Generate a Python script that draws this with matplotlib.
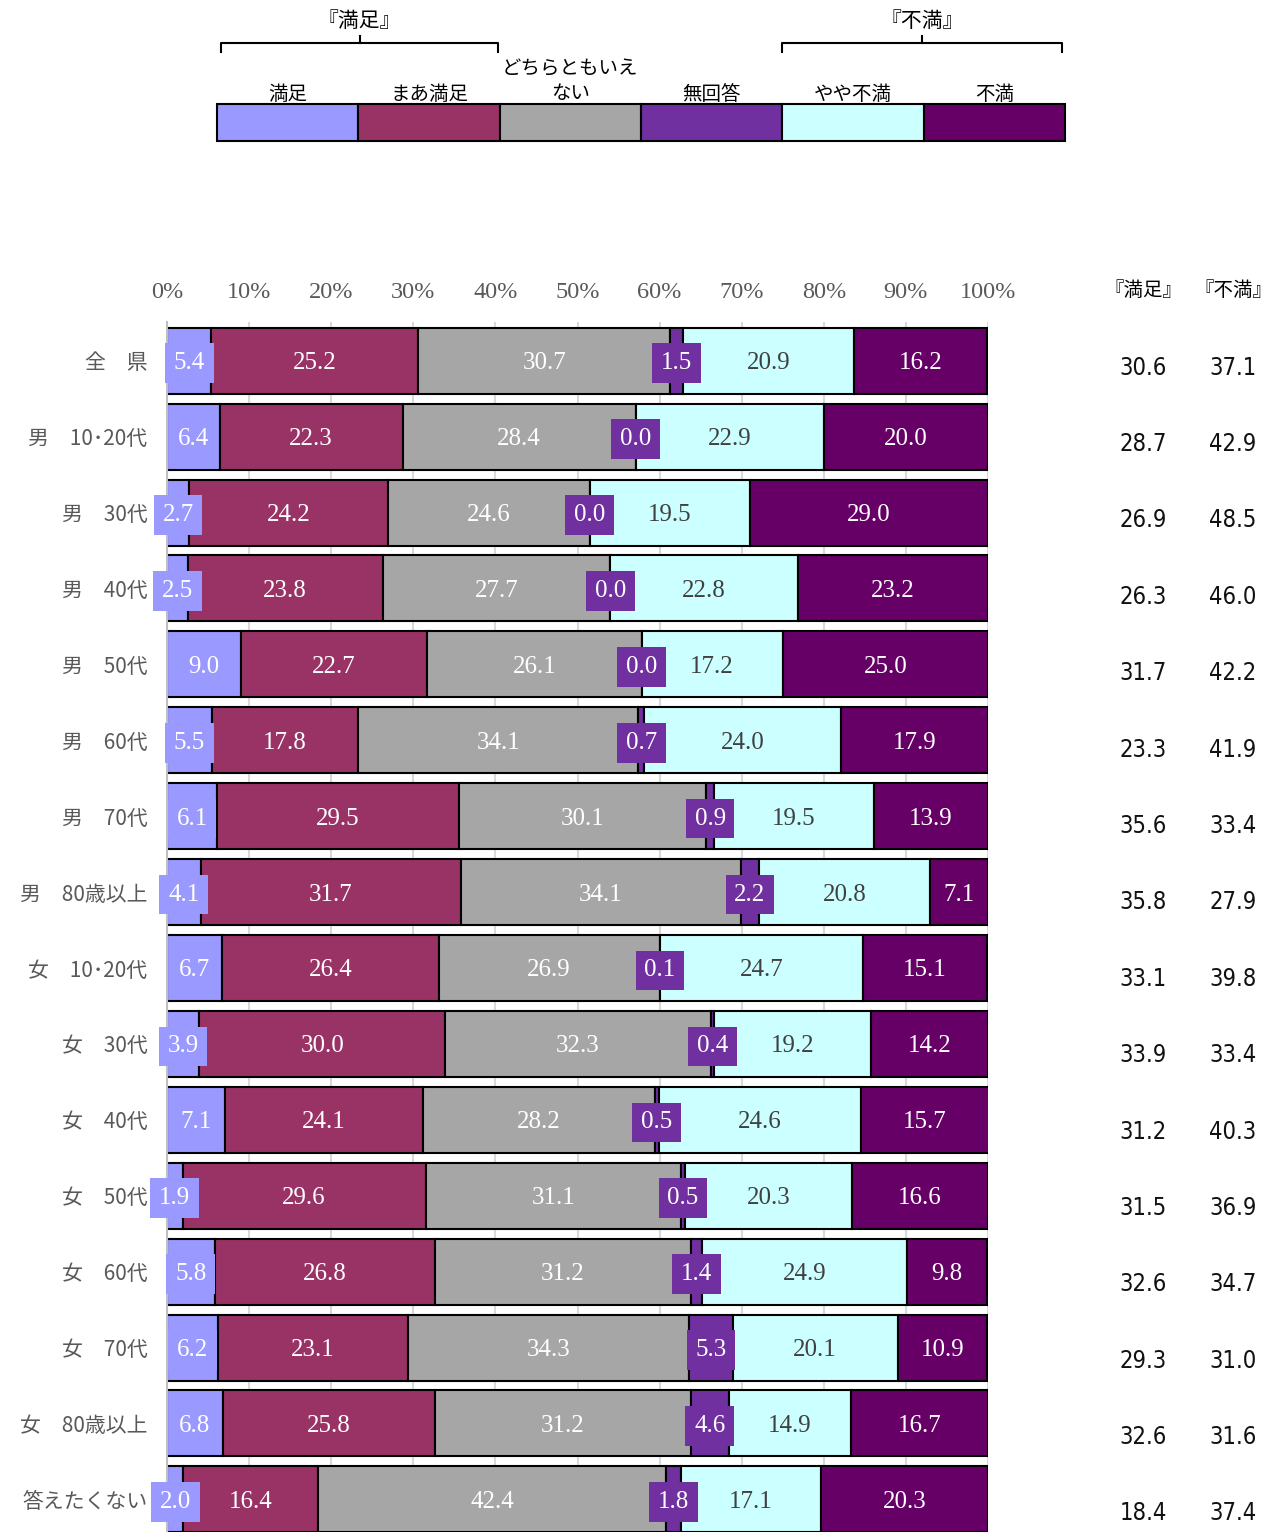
import numpy as np
import matplotlib
matplotlib.use("Agg")
import matplotlib.pyplot as plt
from matplotlib.transforms import blended_transform_factory

plt.rcParams['font.family'] = ['Noto Sans CJK JP', 'DejaVu Sans']

# --- data ---
groups = ["全　県", "男　10･20代", "男　30代", "男　40代", "男　50代", "男　60代",
          "男　70代", "男　80歳以上", "女　10･20代", "女　30代", "女　40代",
          "女　50代", "女　60代", "女　70代", "女　80歳以上", "答えたくない"]
categories = ["満足", "まあ満足", "どちらともいえ\nない", "無回答", "やや不満", "不満"]
manzoku   = [5.4, 6.4, 2.7, 2.5, 9.0, 5.5, 6.1, 4.1, 6.7, 3.9, 7.1, 1.9, 5.8, 6.2, 6.8, 2.0]
maa       = [25.2, 22.3, 24.2, 23.8, 22.7, 17.8, 29.5, 31.7, 26.4, 30.0, 24.1, 29.6, 26.8, 23.1, 25.8, 16.4]
dochira   = [30.7, 28.4, 24.6, 27.7, 26.1, 34.1, 30.1, 34.1, 26.9, 32.3, 28.2, 31.1, 31.2, 34.3, 31.2, 42.4]
mukaito   = [1.5, 0.0, 0.0, 0.0, 0.0, 0.7, 0.9, 2.2, 0.1, 0.4, 0.5, 0.5, 1.4, 5.3, 4.6, 1.8]
yaya      = [20.9, 22.9, 19.5, 22.8, 17.2, 24.0, 19.5, 20.8, 24.7, 19.2, 24.6, 20.3, 24.9, 20.1, 14.9, 17.1]
fuman     = [16.2, 20.0, 29.0, 23.2, 25.0, 17.9, 13.9, 7.1, 15.1, 14.2, 15.7, 16.6, 9.8, 10.9, 16.7, 20.3]
sat_total = [30.6, 28.7, 26.9, 26.3, 31.7, 23.3, 35.6, 35.8, 33.1, 33.9, 31.2, 31.5, 32.6, 29.3, 32.6, 18.4]
dis_total = [37.1, 42.9, 48.5, 46.0, 42.2, 41.9, 33.4, 27.9, 39.8, 33.4, 40.3, 36.9, 34.7, 31.0, 31.6, 37.4]
xticks = [0, 10, 20, 30, 40, 50, 60, 70, 80, 90, 100]

colors = ["#9999FF", "#993366", "#A6A6A6", "#7030A0", "#CCFFFF", "#660066"]
text_colors = ["white", "white", "white", "white", "#404040", "white"]
series = [manzoku, maa, dochira, mukaito, yaya, fuman]

W, H = 1274, 1532
fig = plt.figure(figsize=(W / 100, H / 100), dpi=100)
ax = fig.add_axes([167 / W, 0, (988 - 167) / W, (H - 322) / H])
ov = fig.add_axes([0, 0, 1, 1], zorder=5)
ov.set_xlim(0, W); ov.set_ylim(H, 0); ov.axis('off')

y = np.arange(len(groups))
left = np.zeros(len(groups))
for vals, col, tcol in zip(series, colors, text_colors):
    vals = np.array(vals)
    ax.barh(y, vals, left=left, height=0.87, color=col, edgecolor='black',
            linewidth=1.5, zorder=2)
    for yi, l, v in zip(y, left, vals):
        ax.text(l + v / 2, yi, f"{v:.1f}", ha='center', va='center_baseline',
                color=tcol, fontsize=18, family='Liberation Serif', zorder=4,
                bbox=dict(boxstyle='square,pad=0.35', fc=col, ec='none'))
    left += vals

ax.set_xlim(0, 100)
ax.set_ylim(15.43, -0.51)
ax.set_xticks(xticks)
ax.set_xticklabels([f"{t}%" for t in xticks], family='Liberation Serif',
                   fontsize=17.5, color='#595959')
ax.xaxis.tick_top()
ax.tick_params(axis='x', length=0, pad=14)
ax.set_yticks(y)
ax.set_yticklabels(groups, fontsize=15, color='#595959')
ax.tick_params(axis='y', length=0, pad=14)
ax.grid(axis='x', color='#D9D9D9', linewidth=1.5, zorder=0)
ax.set_axisbelow(True)
for s in ['top', 'right', 'bottom']:
    ax.spines[s].set_visible(False)
ax.spines['left'].set_color('#BFBFBF')
ax.spines['left'].set_linewidth(1.5)

# right-hand totals (『満足』 = 満足 + まあ満足, 『不満』 = やや不満 + 不満)
tr = blended_transform_factory(ov.transData, ax.transData)
for i, (a, b) in enumerate(zip(sat_total, dis_total)):
    off = (7 + i * 0.47) / 75.9
    for xx, v in ((1143, a), (1233, b)):
        ax.text(xx, i + off, f"{v:.1f}", transform=tr, ha='center', va='center',
                fontsize=17, family='DejaVu Sans', fontstretch='condensed',
                color='#111111', clip_on=False)
ov.text(1143, 291, "『満足』", ha='center', va='center', fontsize=14)
ov.text(1233, 291, "『不満』", ha='center', va='center', fontsize=14)

# legend
lx0, lw = 217, (1065 - 217) / 6
for k, (lab, col) in enumerate(zip(categories, colors)):
    ov.add_patch(plt.Rectangle((lx0 + k * lw, 104), lw, 37, fc=col,
                               ec='black', lw=1.5))
    cy = 81.5 if "\n" in lab else 94
    ov.text(lx0 + (k + 0.5) * lw, cy, lab, ha='center', va='center',
            fontsize=14, linespacing=1.25)

# brackets
for x0, x1, lab in ((221, 498, "『満足』"), (782, 1062, "『不満』")):
    xc = (x0 + x1) / 2
    ov.plot([x0, x0, x1, x1], [52, 43, 43, 52], color='black', lw=1.5)
    ov.plot([xc, xc], [43, 36], color='black', lw=1.5)
    ov.text(xc, 21, lab, ha='center', va='center', fontsize=15)

fig.savefig("out.png", dpi=100)
